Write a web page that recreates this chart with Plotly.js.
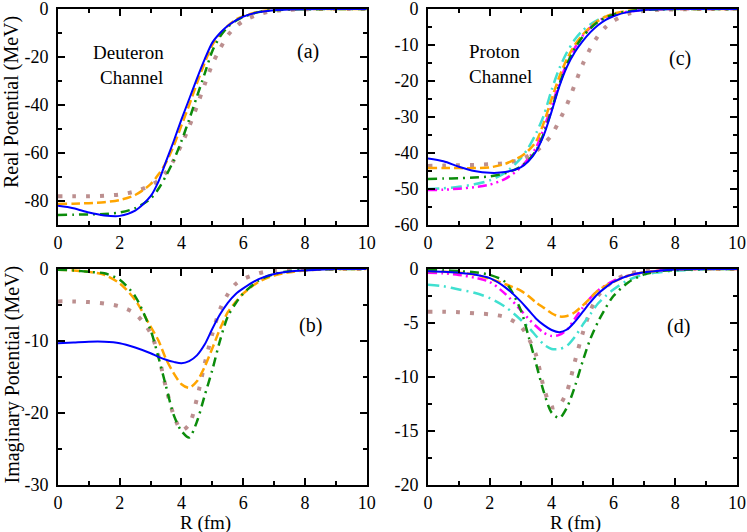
<!DOCTYPE html>
<html>
<head>
<meta charset="utf-8">
<script src="https://cdn.plot.ly/plotly-3.0.1.min.js"></script>
<style>
  body { margin: 0; background: #fff; }
  #myDiv { width: 747px; height: 532px; }
</style>
</head>
<body>
<div id="myDiv"></div>
<script>
// radius grid (fm), shared by every curve
var R = [0, 0.5, 1, 1.5, 2, 2.5, 3, 3.25, 3.5, 3.75, 4, 4.25, 4.5, 4.75, 5, 5.25, 5.5, 5.75, 6, 6.5, 7, 7.5, 8, 9, 10];

// (a) deuteron channel, real part (MeV)
var aBlue   = [-82, -83, -84.8, -86, -86.2, -84, -78, -72, -63.5, -55, -46, -37.5, -29, -21, -14, -10, -7, -4.8, -3.2, -1.3, -0.5, -0.2, -0.1, 0, 0];
var aOrange = [-81.2, -81.1, -80.9, -80.5, -79.6, -77.5, -73, -69, -64, -57, -48.5, -40, -31, -22.5, -15, -10.5, -7, -4.5, -3, -1.1, -0.4, -0.15, 0, 0, 0];
var aGreen  = [-85.8, -85.7, -85.6, -85.4, -84.8, -83, -79, -75, -69.5, -63, -55, -46, -36.5, -27, -17.5, -11.5, -7.5, -5, -3.3, -1.3, -0.5, -0.2, -0.1, 0, 0];
var aBrown  = [-78, -78, -78, -77.8, -77.3, -76, -73.5, -71.5, -68, -63, -56.5, -49, -40.5, -31.5, -23, -16.5, -11, -7.5, -5, -2.2, -0.8, -0.3, -0.1, 0, 0];

// (b) deuteron channel, imaginary part (MeV)
var bBlue   = [-10.3, -10.2, -10.1, -10.1, -10.3, -10.9, -11.7, -12.2, -12.6, -12.9, -13.1, -12.8, -12, -10.5, -8.3, -6.3, -4.7, -3.5, -2.7, -1.4, -0.7, -0.35, -0.2, 0, 0];
var bOrange = [-0.1, -0.2, -0.4, -0.8, -2, -4.3, -8, -9.9, -12.5, -14.5, -16, -16.5, -15.6, -13.6, -11, -8.3, -6, -4.6, -3.4, -1.8, -0.9, -0.45, -0.2, 0, 0];
var bGreen  = [-0.1, -0.2, -0.4, -0.6, -1.5, -3.8, -8.5, -12.2, -16.3, -20.3, -22.5, -23.4, -21.2, -17.6, -14, -9.9, -6.6, -4.8, -3.4, -1.6, -0.7, -0.3, -0.1, 0, 0];
var bBrown  = [-4.5, -4.5, -4.6, -4.8, -5.2, -6.2, -8.9, -12, -16.5, -20.3, -22.4, -21.6, -18, -13.2, -9, -5.6, -3.5, -2.1, -1.4, -0.6, -0.2, -0.1, 0, 0, 0];

// (c) proton channel, real part (MeV)
var cBlue    = [-41.5, -42.3, -43.8, -45, -45.5, -45.3, -44, -42.3, -39.5, -35, -28.5, -21.5, -16, -12, -9, -6.5, -4.5, -3, -2, -0.8, -0.3, -0.1, 0, 0, 0];
var cOrange  = [-44.2, -44.2, -44.2, -44.2, -44, -43, -41, -39.3, -36.8, -31.5, -25, -18.8, -13.8, -10, -7.2, -5, -3.3, -2.1, -1.3, -0.5, -0.2, 0, 0, 0, 0];
var cGreen   = [-47.2, -47.1, -47, -46.8, -46.5, -45.6, -43.8, -42, -39.3, -34.5, -28, -21, -15.3, -11, -7.8, -5.4, -3.6, -2.4, -1.5, -0.6, -0.2, -0.1, 0, 0, 0];
var cMagenta = [-50.3, -50.2, -49.9, -49.5, -48.8, -47.2, -44, -41.5, -38.5, -33, -27, -20.5, -15, -10.8, -7.5, -5.2, -3.4, -2.3, -1.5, -0.7, -0.3, -0.1, 0, 0, 0];
var cTurq    = [-50, -49.8, -49.4, -48.7, -47.6, -45.5, -41.5, -38.5, -34.5, -29.5, -22.5, -16.5, -12, -8.5, -6, -4.3, -3, -2.1, -1.5, -0.7, -0.3, -0.1, 0, 0, 0];
var cBrown   = [-43.6, -43.5, -43.4, -43.3, -43.1, -42.8, -41.8, -40.8, -39.5, -37.5, -35, -31, -26.5, -21, -15.5, -11, -7.5, -5, -3.3, -1.3, -0.5, -0.2, -0.1, 0, 0];

// (d) proton channel, imaginary part (MeV)
var dBlue    = [-0.2, -0.25, -0.35, -0.5, -0.85, -1.7, -3, -3.8, -4.6, -5.2, -5.65, -5.85, -5.6, -4.9, -4, -3.1, -2.3, -1.7, -1.2, -0.6, -0.3, -0.15, -0.05, 0, 0];
var dOrange  = [-0.2, -0.25, -0.35, -0.5, -0.9, -1.4, -2, -2.5, -3.1, -3.6, -4.1, -4.4, -4.35, -4, -3.4, -2.7, -2, -1.55, -1.2, -0.6, -0.3, -0.15, -0.05, 0, 0];
var dGreen   = [-0.1, -0.12, -0.2, -0.3, -0.55, -1.2, -3.8, -6.2, -8.8, -11.4, -13.3, -13.8, -12.8, -10.9, -8.6, -6.5, -4.9, -3.6, -2.5, -1.2, -0.5, -0.2, -0.1, 0, 0];
var dMagenta = [-0.35, -0.4, -0.55, -0.8, -1.2, -2.3, -3.8, -4.6, -5.3, -5.9, -6.2, -6.1, -5.6, -4.6, -3.6, -2.7, -2, -1.5, -1.1, -0.6, -0.3, -0.15, -0.05, 0, 0];
var dTurq    = [-1.45, -1.6, -1.9, -2.2, -2.7, -3.5, -4.7, -5.4, -6.2, -7, -7.4, -7.4, -7.1, -6.3, -5.2, -4.2, -3.2, -2.5, -1.9, -1, -0.5, -0.3, -0.15, -0.05, 0];
var dBrown   = [-3.95, -3.95, -4, -4.1, -4.2, -4.45, -5.3, -6.4, -8, -11, -12.8, -12.6, -11.3, -8.6, -6, -3.9, -2.5, -1.7, -1.1, -0.45, -0.2, -0.1, 0, 0, 0];

// tick labels
var xTicks  = [0, 2, 4, 6, 8, 10];
var aYTicks = [0, -20, -40, -60, -80];
var bYTicks = [0, -10, -20, -30];
var cYTicks = [0, -10, -20, -30, -40, -50, -60];
var dYTicks = [0, -5, -10, -15, -20];

var FONT = '"Liberation Serif", "Times New Roman", Times, serif';

var sty = {
  blue:    { color: '#0000ff', width: 2,   dash: 'solid' },
  orange:  { color: '#ffa500', width: 2.5, dash: '9px,4px' },
  green:   { color: '#0b8c0b', width: 2.5, dash: '9px,5px,2px,5px' },
  brown:   { color: '#bc8f8f', width: 4,   dash: '4px,10px' },
  magenta: { color: '#ff00ff', width: 2.5, dash: '9px,4px,2px,4px,2px,4px' },
  turq:    { color: '#40e0d0', width: 2.5, dash: '11px,5px,2px,5px' }
};

function curve(y, s, xa, ya) {
  return {
    x: R, y: y, xaxis: xa, yaxis: ya, type: 'scatter', mode: 'lines',
    line: { color: s.color, width: s.width, dash: s.dash, shape: 'spline', smoothing: 0.8 },
    hoverinfo: 'skip'
  };
}

var data = [
  curve(aBrown, sty.brown, 'x', 'y'),
  curve(aOrange, sty.orange, 'x', 'y'),
  curve(aGreen, sty.green, 'x', 'y'),
  curve(aBlue, sty.blue, 'x', 'y'),

  curve(bBrown, sty.brown, 'x2', 'y2'),
  curve(bOrange, sty.orange, 'x2', 'y2'),
  curve(bGreen, sty.green, 'x2', 'y2'),
  curve(bBlue, sty.blue, 'x2', 'y2'),

  curve(cBrown, sty.brown, 'x3', 'y3'),
  curve(cTurq, sty.turq, 'x3', 'y3'),
  curve(cMagenta, sty.magenta, 'x3', 'y3'),
  curve(cOrange, sty.orange, 'x3', 'y3'),
  curve(cGreen, sty.green, 'x3', 'y3'),
  curve(cBlue, sty.blue, 'x3', 'y3'),

  curve(dBrown, sty.brown, 'x4', 'y4'),
  curve(dTurq, sty.turq, 'x4', 'y4'),
  curve(dMagenta, sty.magenta, 'x4', 'y4'),
  curve(dOrange, sty.orange, 'x4', 'y4'),
  curve(dGreen, sty.green, 'x4', 'y4'),
  curve(dBlue, sty.blue, 'x4', 'y4')
];

// plot box in pixels: left 58, top 9, 679 x 476
var L = 58, B = 485, W = 679, H = 476;
function px(x) { return (x - L) / W; }
function py(y) { return (B - y) / H; }

var leftDom = [0, px(366.7)], rightDom = [px(428), 1];
var topDom = [py(225), 1], botDom = [0, py(269)];

function xax(dom, anchor) {
  return {
    domain: dom, anchor: anchor, range: [0, 10],
    tickvals: xTicks, ticktext: xTicks.map(String),
    ticks: 'inside', ticklen: 7, tickwidth: 2, tickcolor: '#000',
    minor: { dtick: 1, tick0: 0, ticks: 'inside', ticklen: 4, tickwidth: 2, tickcolor: '#000', showgrid: false },
    showline: true, linewidth: 2, linecolor: '#000', mirror: 'ticks',
    showgrid: false, zeroline: false, ticklabelstandoff: 0, ticklabeloverflow: 'allow',
    tickfont: { family: FONT, size: 18, color: '#000' }
  };
}
function yax(dom, anchor, range, ticks, minorStep) {
  return {
    domain: dom, anchor: anchor, range: range,
    tickvals: ticks, ticktext: ticks.map(String),
    ticks: 'inside', ticklen: 7, tickwidth: 2, tickcolor: '#000',
    minor: { dtick: minorStep, tick0: 0, ticks: 'inside', ticklen: 4, tickwidth: 2, tickcolor: '#000', showgrid: false },
    showline: true, linewidth: 2, linecolor: '#000', mirror: 'ticks',
    showgrid: false, zeroline: false, ticklabelstandoff: 4, ticklabeloverflow: 'allow',
    tickfont: { family: FONT, size: 18, color: '#000' }
  };
}

function note(text, x, y, size, angle) {
  return {
    text: text, xref: 'paper', yref: 'paper', x: px(x), y: py(y),
    xanchor: 'center', yanchor: 'middle', showarrow: false,
    textangle: angle || 0,
    font: { family: FONT, size: size, color: '#000' }
  };
}

var layout = {
  width: 747, height: 532,
  margin: { l: 58, r: 10, t: 9, b: 47 },
  paper_bgcolor: '#fff', plot_bgcolor: '#fff',
  showlegend: false,
  xaxis:  xax(leftDom, 'y'),
  yaxis:  yax(topDom, 'x', [-90, 0], aYTicks, 10),
  xaxis2: xax(leftDom, 'y2'),
  yaxis2: yax(botDom, 'x2', [-30, 0], bYTicks, 5),
  xaxis3: xax(rightDom, 'y3'),
  yaxis3: yax(topDom, 'x3', [-60, 0], cYTicks, 5),
  xaxis4: xax(rightDom, 'y4'),
  yaxis4: yax(botDom, 'x4', [-20, 0], dYTicks, 2.5),
  annotations: [
    note('Deuteron', 128, 52.7, 19),
    note('Channel', 131, 77, 19),
    note('(a)', 307.5, 51.7, 20),
    note('Proton', 494.7, 51.7, 19),
    note('Channel', 500.7, 76, 19),
    note('(c)', 679.7, 58.3, 20),
    note('(b)', 310.7, 325, 20),
    note('(d)', 678.3, 326.7, 20),
    note('R (fm)', 205.7, 523, 19),
    note('R (fm)', 575.7, 523, 19),
    note('Real Potential (MeV)', 12, 102, 20, -90),
    note('Imaginary Potential (MeV)', 12, 374.5, 20, -90)
  ]
};

Plotly.newPlot('myDiv', data, layout, { staticPlot: true, displayModeBar: false });
</script>
</body>
</html>
